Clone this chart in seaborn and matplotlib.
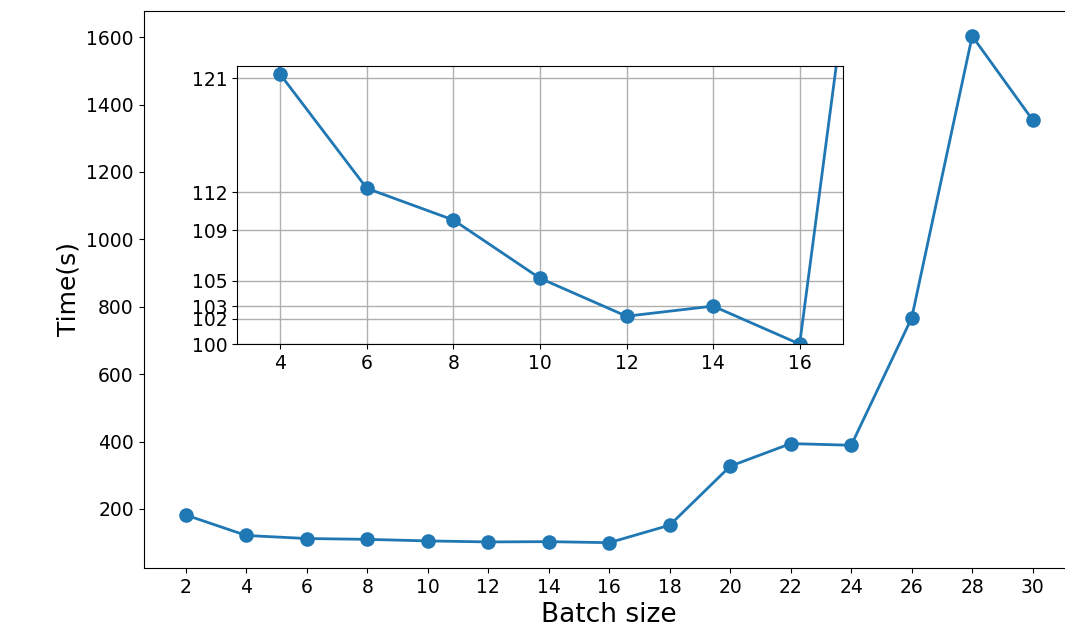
import matplotlib
matplotlib.use("Agg")
import matplotlib.pyplot as plt
import seaborn as sns
import pandas as pd

batch_sizes = [2, 4, 6, 8, 10, 12, 14, 16, 18, 20, 22, 24, 26, 28, 30]
times = [182, 121.3, 112.3, 109.8, 105.2, 102.2, 103.0, 100.0, 152, 327, 394, 389, 767, 1603, 1354]
main_xticks = [2, 4, 6, 8, 10, 12, 14, 16, 18, 20, 22, 24, 26, 28, 30]
inset_xticks = [4, 6, 8, 10, 12, 14, 16]
inset_yticks = [100, 102, 103, 105, 109, 112, 121]

df = pd.DataFrame({"batch": batch_sizes, "time": times})

fig = plt.figure(figsize=(10.65, 6.36), dpi=100)
ax = fig.add_axes([0.1348, 0.107, 0.8746, 0.876])
color = "#1f77b4"
sns.lineplot(data=df, x="batch", y="time", marker="o", markersize=10.5,
             markeredgewidth=0, color=color, linewidth=2, ax=ax)
ax.set_xticks(main_xticks)
ax.set_xlim(0.6, 31.4)
ax.set_ylim(25, 1678)
ax.set_yticks([200, 400, 600, 800, 1000, 1200, 1400, 1600])
ax.tick_params(labelsize=13.5)
ax.set_xlabel("Batch size", fontsize=19)
ax.set_ylabel("Time(s)", fontsize=18)

axin = fig.add_axes([0.2225, 0.459, 0.569, 0.437])
sns.lineplot(data=df, x="batch", y="time", marker="o", markersize=10.5,
             markeredgewidth=0, color=color, linewidth=2, ax=axin)
axin.set_xlim(3, 17)
axin.set_ylim(100, 121.95)
axin.set_xticks(inset_xticks)
axin.set_yticks(inset_yticks)
axin.grid(True, color="#b0b0b0", linewidth=1)
axin.tick_params(labelsize=13.5)
axin.set_xlabel("")
axin.set_ylabel("")

fig.savefig("out.png", dpi=100)
